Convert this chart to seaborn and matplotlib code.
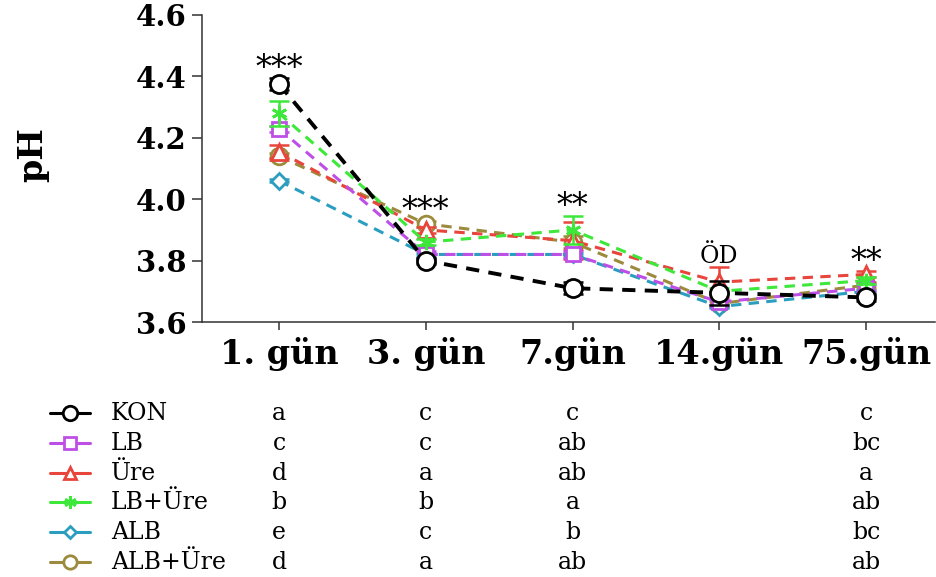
import numpy as np
import pandas as pd
import matplotlib
matplotlib.use("Agg")
import matplotlib.pyplot as plt
import seaborn as sns
from matplotlib.lines import Line2D
from matplotlib.transforms import blended_transform_factory

# ---------------- data ----------------
days = ["1. gün", "3. gün", "7.gün", "14.gün", "75.gün"]
groups = ["KON", "LB", "Üre", "LB+Üre", "ALB", "ALB+Üre"]

kon = [4.375, 3.80, 3.71, 3.695, 3.68]
lb = [4.23, 3.82, 3.82, 3.665, 3.71]
ure = [4.155, 3.90, 3.865, 3.73, 3.755]
lb_ure = [4.28, 3.86, 3.90, 3.70, 3.735]
alb = [4.06, 3.82, 3.82, 3.65, 3.70]
alb_ure = [4.14, 3.92, 3.86, 3.66, 3.72]

kon_err = [0.02, 0.01, 0.02, 0.04, 0.01]
lb_err = [0.01, 0.01, 0.01, 0.01, 0.01]
ure_err = [0.02, 0.01, 0.06, 0.05, 0.01]
lb_ure_err = [0.04, 0.01, 0.045, 0.01, 0.01]
alb_err = [0.005, 0.005, 0.005, 0.005, 0.005]
alb_ure_err = [0.01, 0.01, 0.02, 0.01, 0.01]

sig_labels = ["***", "***", "**", "ÖD", "**"]

kon_letters = ["a", "c", "c", "", "c"]
lb_letters = ["c", "c", "ab", "", "bc"]
ure_letters = ["d", "a", "ab", "", "a"]
lb_ure_letters = ["b", "b", "a", "", "ab"]
alb_letters = ["e", "c", "b", "", "bc"]
alb_ure_letters = ["d", "a", "ab", "", "ab"]

means = dict(zip(groups, [kon, lb, ure, lb_ure, alb, alb_ure]))
errs = dict(zip(groups, [kon_err, lb_err, ure_err, lb_ure_err, alb_err, alb_ure_err]))
letters = dict(zip(groups, [kon_letters, lb_letters, ure_letters, lb_ure_letters,
                            alb_letters, alb_ure_letters]))

# ---------------- styles ----------------
colors = {"KON": "#000000", "LB": "#BE4FE6", "Üre": "#E8453C",
          "LB+Üre": "#3DE83A", "ALB": "#2B9EC0", "ALB+Üre": "#9C8B3C"}
markers = {"KON": "o", "LB": "s", "Üre": "^", "LB+Üre": (6, 2, 0),
           "ALB": "D", "ALB+Üre": "o"}
sns_markers = {g: (m if g != "LB+Üre" else "*") for g, m in markers.items()}
msizes = {"KON": 13, "LB": 10, "Üre": 11, "LB+Üre": 11, "ALB": 8, "ALB+Üre": 12}
lwidths = {"KON": 2.8, "LB": 2.2, "Üre": 2.2, "LB+Üre": 2.2, "ALB": 2.2, "ALB+Üre": 2.2}
zorders = {"KON": 8, "LB": 5, "Üre": 4, "LB+Üre": 6, "ALB": 3, "ALB+Üre": 2}

rows = []
for g in groups:
    for i, d in enumerate(days):
        rows.append({"group": g, "x": i, "pH": means[g][i]})
df = pd.DataFrame(rows)

sns.set_style("ticks")
plt.rcParams["font.family"] = ["DejaVu Serif"]
plt.rcParams["text.color"] = "black"

W, H = 937, 577
fig = plt.figure(figsize=(W / 100, H / 100), dpi=100)
ax = fig.add_axes([202 / W, 1 - 322 / H, (935 - 202) / W, (322 - 15) / H])

sns.lineplot(data=df, x="x", y="pH", hue="group", style="group",
             hue_order=groups, style_order=groups, palette=colors,
             markers=sns_markers, dashes={g: (3.4, 2.4) for g in groups},
             legend=False, ax=ax, sort=False)

for line, g in zip(ax.lines, groups):
    c = colors[g]
    line.set_marker(markers[g])
    line.set_linewidth(lwidths[g])
    line.set_markersize(msizes[g])
    line.set_markerfacecolor("white" if markers[g] != (6, 2, 0) else c)
    line.set_markeredgecolor(c)
    line.set_markeredgewidth(2.0)
    line.set_zorder(zorders[g])

for g in groups:
    ax.errorbar(range(len(days)), means[g], yerr=errs[g], fmt="none",
                ecolor=colors[g], elinewidth=1.8, capsize=7, capthick=1.8,
                zorder=zorders[g] - 0.5)

# significance labels above each day
for i, lab in enumerate(sig_labels):
    top = max(means[g][i] + errs[g][i] for g in groups)
    star = "*" in lab
    ax.annotate(lab, xy=(i, top), xytext=(0, 1.0 if star else 2.5),
                textcoords="offset points", ha="center", va="baseline",
                fontsize=23 if star else 17, color="black")

ax.set_xlim(-0.525, 4.47)
ax.set_ylim(3.6, 4.6)
ax.set_xticks(range(len(days)))
ax.set_xticklabels(days)
ax.set_yticks([3.6, 3.8, 4.0, 4.2, 4.4, 4.6])
ax.set_yticklabels(["3.6", "3.8", "4.0", "4.2", "4.4", "4.6"])
ax.tick_params(axis="x", length=6, width=1.1, pad=5, labelsize=24, colors="#333333",
               labelcolor="black")
ax.tick_params(axis="y", length=7, width=1.1, pad=4, labelsize=21, colors="#333333",
               labelcolor="black")
for t in ax.get_xticklabels() + ax.get_yticklabels():
    t.set_fontweight("bold")
ax.set_xlabel("")
ax.set_ylabel("pH", fontsize=24, fontweight="bold", color="black")
ax.yaxis.set_label_coords(-0.2306, 0.544)
ax.yaxis.label.set_verticalalignment("center")
sns.despine(ax=ax)
for s in ["left", "bottom"]:
    ax.spines[s].set_linewidth(1.1)
    ax.spines[s].set_color("#333333")

# legend table below the chart
blend = blended_transform_factory(ax.transData, fig.transFigure)
for r, g in enumerate(groups):
    base = 420 + r * 29.8
    yc = 1 - (base - 7) / H
    c = colors[g]
    fig.add_artist(Line2D([50 / W, 70 / W, 90 / W], [yc] * 3, transform=fig.transFigure,
                          color=c, lw=2.2, marker=markers[g], markevery=[1],
                          ms=msizes[g] * 0.8,
                          mfc="white" if markers[g] != (6, 2, 0) else c,
                          mec=c, mew=2.0))
    fig.text(111 / W, 1 - base / H, g, fontsize=17, va="baseline", ha="left",
             color="black")
    for j, letter in enumerate(letters[g]):
        if letter:
            ax.text(j, 1 - base / H, letter, transform=blend, fontsize=17,
                    ha="center", va="baseline", clip_on=False, color="black")

fig.savefig("out.png", dpi=100)
